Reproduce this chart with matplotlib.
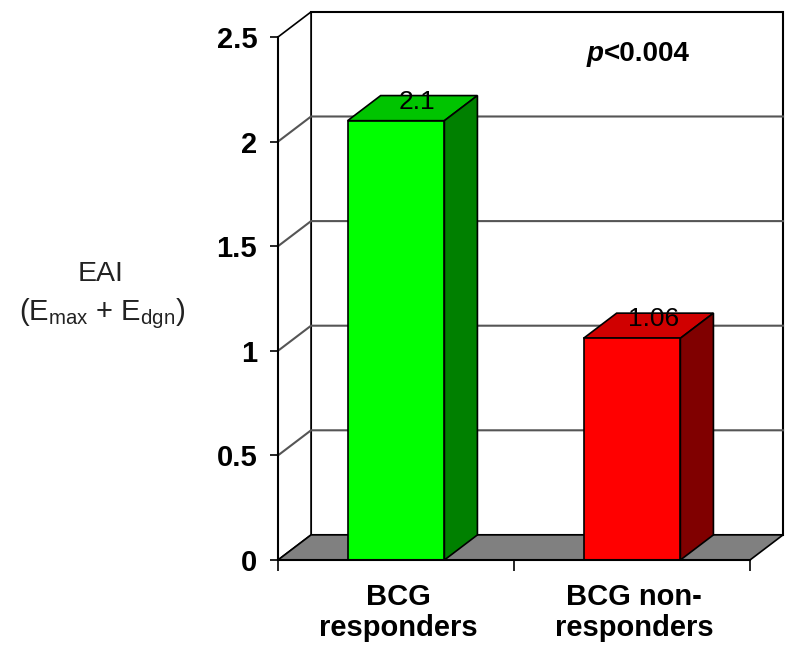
import numpy as np
import matplotlib.pyplot as plt
from matplotlib.patches import Polygon, Rectangle

plt.rcParams['font.family'] = ['Liberation Sans', 'DejaVu Sans']
plt.rcParams['mathtext.fontset'] = 'custom'
plt.rcParams['mathtext.rm'] = 'Liberation Sans'
plt.rcParams['mathtext.it'] = 'Liberation Sans:italic'
plt.rcParams['mathtext.bf'] = 'Liberation Sans:bold'

categories = ['BCG\nresponders', 'BCG non-\nresponders']
values = [2.1, 1.06]
value_labels = ['2.1', '1.06']
front_colors = ['#00ff00', '#ff0000']
top_colors = ['#00c400', '#d00000']
side_colors = ['#008000', '#800000']
y_ticks = [0, 0.5, 1, 1.5, 2, 2.5]
y_tick_labels = ['0', '0.5', '1', '1.5', '2', '2.5']

# depth offset of the fake 3d box, in data units
dx, dy = 0.14, 0.12
bar_w = 0.41

fig = plt.figure(figsize=(8, 6.69), dpi=100)
ax = fig.add_axes([278 / 800, 109 / 669, 472 / 800, 523 / 669])
ax.set_xlim(-0.5, 1.5)
ax.set_ylim(0, 2.5)
ax.patch.set_visible(False)

x0, x1 = -0.5, 1.5
# back wall
ax.add_patch(Rectangle((x0 + dx, dy), x1 - x0, 2.5, facecolor='white',
                       edgecolor='black', lw=1.5, clip_on=False, zorder=0))
# left side wall
ax.add_patch(Polygon([(x0, 0), (x0 + dx, dy), (x0 + dx, 2.5 + dy), (x0, 2.5)],
                     closed=True, facecolor='white', edgecolor='black', lw=1.2,
                     clip_on=False, zorder=0))
# gridlines
for v in y_ticks[1:-1]:
    ax.plot([x0, x0 + dx, x1 + dx], [v, v + dy, v + dy], color='#555555',
            lw=1.5, clip_on=False, zorder=1)
# floor
ax.add_patch(Polygon([(x0, 0), (x1, 0), (x1 + dx, dy), (x0 + dx, dy)],
                     closed=True, facecolor='#808080', edgecolor='black', lw=1.2,
                     clip_on=False, zorder=1))

x = np.arange(len(values))
ax.bar(x, values, width=bar_w, color=front_colors, edgecolor='black',
       lw=1.2, zorder=4)
for xi, v, tc, sc, lab in zip(x, values, top_colors, side_colors, value_labels):
    l, r = xi - bar_w / 2, xi + bar_w / 2
    ax.add_patch(Polygon([(l, v), (r, v), (r + dx, v + dy), (l + dx, v + dy)],
                         closed=True, facecolor=tc, edgecolor='black', lw=1.2,
                         clip_on=False, zorder=3))
    ax.add_patch(Polygon([(r, 0), (r + dx, dy), (r + dx, v + dy), (r, v)],
                         closed=True, facecolor=sc, edgecolor='black', lw=1.2,
                         clip_on=False, zorder=3))
    ax.text(xi + dx / 2 + 0.02, v + dy / 2 + 0.03, lab, ha='center', va='center',
            fontsize=19, zorder=5)

# axes
for s in ['top', 'right']:
    ax.spines[s].set_visible(False)
ax.spines['left'].set_linewidth(1.5)
ax.spines['bottom'].set_linewidth(1.5)
ax.spines['left'].set_zorder(6)
ax.spines['bottom'].set_zorder(6)
ax.set_yticks(y_ticks)
ax.set_yticklabels(y_tick_labels, fontsize=21, fontweight='bold')
ax.tick_params(axis='y', length=6, width=1.2, pad=9)
ax.set_xticks([-0.5, 0.5, 1.5])
ax.set_xticklabels([])
ax.tick_params(axis='x', length=8, width=1.2, direction='out')
for xi, c in zip(x, categories):
    ax.text(xi + 0.01, -0.11, c, ha='center', va='top', fontsize=21,
            fontweight='bold', linespacing=1.15)

fig.text(604 / 800, 1 - 54 / 669, 'p', ha='right', va='center', fontsize=20,
         fontweight='bold', fontstyle='italic')
fig.text(604 / 800, 1 - 54 / 669, '<0.004', ha='left', va='center', fontsize=20,
         fontweight='bold')

fig.text(101 / 800, 1 - 274 / 669, 'EAI', ha='center', va='center', fontsize=20.5,
         color='#222222')
fig.text(102 / 800, 1 - 314 / 669, r'(E$_{\mathrm{max}}$ + E$_{\mathrm{dgn}}$)',
         ha='center', va='center', fontsize=21, color='#222222')

fig.savefig('out.png', dpi=100)
